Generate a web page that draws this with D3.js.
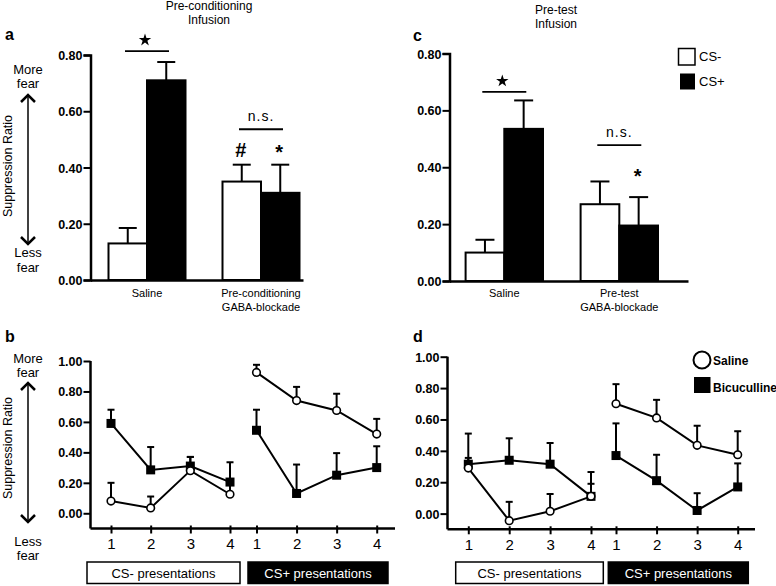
<!DOCTYPE html>
<html>
<head>
<meta charset="utf-8">
<script src="https://cdn.jsdelivr.net/npm/d3@7"></script>
<style>
  body { margin: 0; background: #fff; }
  text { font-family: "Liberation Sans", Arial, Helvetica, sans-serif; fill: #000; }
</style>
</head>
<body>
<div id="chart"></div>
<script>
// ---- data ----
var seriesBar = ["CS-", "CS+"];

// panel a: pre-conditioning infusion
var groupsA = ["Saline", "Pre-conditioning GABA-blockade"];
var labelsA = [["Saline"], ["Pre-conditioning", "GABA-blockade"]];
var csMinusA = [0.13, 0.35];
var csMinusSemA = [0.055, 0.06];
var csPlusA = [0.71, 0.31];
var csPlusSemA = [0.065, 0.10];

// panel c: pre-test infusion
var groupsC = ["Saline", "Pre-test GABA-blockade"];
var labelsC = [["Saline"], ["Pre-test", "GABA-blockade"]];
var csMinusC = [0.10, 0.27];
var csMinusSemC = [0.045, 0.08];
var csPlusC = [0.535, 0.195];
var csPlusSemC = [0.10, 0.10];

var barTicks = [0, 0.2, 0.4, 0.6, 0.8];
var lineTicks = [0, 0.2, 0.4, 0.6, 0.8, 1.0];
var trials = [1, 2, 3, 4];

// panel b: 4 CS- presentations then 4 CS+ presentations
var salineB = [0.08, 0.035, 0.28, 0.125, 0.925, 0.74, 0.675, 0.52];
var salineSemB = [0.12, 0.075, 0.09, 0.08, 0.05, 0.09, 0.11, 0.10];
var bicB = [0.59, 0.285, 0.31, 0.205, 0.545, 0.13, 0.25, 0.30];
var bicSemB = [0.09, 0.15, 0.06, 0.13, 0.135, 0.19, 0.145, 0.14];

// panel d
var salineD = [0.29, -0.045, 0.015, 0.11, 0.70, 0.61, 0.435, 0.375];
var salineSemD = [0.22, 0.12, 0.11, 0.08, 0.125, 0.115, 0.125, 0.15];
var bicD = [0.315, 0.34, 0.315, 0.11, 0.37, 0.21, 0.02, 0.17];
var bicSemD = [0.04, 0.14, 0.135, 0.155, 0.205, 0.165, 0.11, 0.15];

// significance marks (in data units)
var sigA = [
  {kind: "star", group: 0, v: 0.853},
  {kind: "line", group: 0, v: 0.814},
  {kind: "text", text: "n.s.", group: 1, v: 0.566},
  {kind: "line", group: 1, v: 0.536},
  {kind: "big", text: "#", group: 1, series: "CS-", v: 0.438},
  {kind: "big", text: "*", group: 1, series: "CS+", v: 0.432}
];
var sigC = [
  {kind: "star", group: 0, v: 0.703},
  {kind: "line", group: 0, v: 0.665},
  {kind: "text", text: "n.s.", group: 1, v: 0.506},
  {kind: "line", group: 1, v: 0.478},
  {kind: "big", text: "*", group: 1, series: "CS+", v: 0.346}
];

var svg = d3.select("#chart").append("svg")
    .attr("width", 776)
    .attr("height", 586);

function barPanel(p) {
  var g = svg.append("g");
  var y = d3.scaleLinear().domain([0, 0.8]).range([p.yZero, p.yTop]);
  var x = d3.scalePoint().domain(p.groups).range(p.centers);
  var sub = d3.scaleBand().domain(seriesBar).range([-p.bw, p.bw]);

  var rows = [];
  p.groups.forEach(function (name, i) {
    rows.push({g: name, s: "CS-", v: p.minus[i], e: p.minusSem[i]});
    rows.push({g: name, s: "CS+", v: p.plus[i], e: p.plusSem[i]});
  });

  // error bars
  rows.forEach(function (d) {
    var cx = x(d.g) + sub(d.s) + sub.bandwidth() / 2;
    g.append("line").attr("x1", cx).attr("x2", cx)
      .attr("y1", y(d.v)).attr("y2", y(d.v + d.e))
      .attr("stroke", "#000").attr("stroke-width", 2);
    g.append("line").attr("x1", cx - p.cap).attr("x2", cx + p.cap)
      .attr("y1", y(d.v + d.e)).attr("y2", y(d.v + d.e))
      .attr("stroke", "#000").attr("stroke-width", 2);
  });

  g.selectAll("rect.bar").data(rows).enter().append("rect")
    .attr("class", "bar")
    .attr("x", function (d) { return x(d.g) + sub(d.s); })
    .attr("width", sub.bandwidth())
    .attr("y", function (d) { return y(d.v); })
    .attr("height", function (d) { return y(0) - y(d.v); })
    .attr("fill", function (d) { return d.s === "CS-" ? "#fff" : "#000"; })
    .attr("stroke", "#000")
    .attr("stroke-width", 2);

  // y axis
  var ax = g.append("g")
    .attr("transform", "translate(" + p.xAxis + ",0)")
    .call(d3.axisLeft(y).tickValues(barTicks).tickFormat(d3.format(".2f"))
      .tickSizeOuter(0).tickSize(7).tickPadding(1));
  ax.select(".domain").attr("stroke-width", 2.5);
  ax.selectAll(".tick line").attr("stroke-width", 2);
  ax.selectAll(".tick text").style("font-size", "12.5px").style("font-weight", "bold")
    .attr("fill", "#000").attr("dy", "0.36em");

  // x axis baseline
  var xb = d3.scaleLinear().domain([0, 1]).range([p.xAxis, p.xEnd]);
  var bx = g.append("g")
    .attr("transform", "translate(0," + y(0) + ")")
    .call(d3.axisBottom(xb).tickValues([]).tickSizeOuter(0));
  bx.select(".domain").attr("stroke-width", 2.5);

  // category labels
  p.groups.forEach(function (name, i) {
    p.labels[i].forEach(function (line, j) {
      g.append("text").attr("x", x(name)).attr("y", p.labelY + j * 13.5)
        .attr("text-anchor", "middle").style("font-size", "11px").text(line);
    });
  });

  // significance marks
  p.sig.forEach(function (s) {
    var cx = x(p.groups[s.group]);
    if (s.series) cx += sub(s.series) + sub.bandwidth() / 2;
    if (s.kind === "line") {
      g.append("line").attr("x1", cx - 22).attr("x2", cx + 22)
        .attr("y1", y(s.v)).attr("y2", y(s.v))
        .attr("stroke", "#000").attr("stroke-width", 1.8);
    } else if (s.kind === "star") {
      g.append("path").attr("d", d3.symbol(d3.symbolStar, 48)())
        .attr("transform", "translate(" + (cx - 2) + "," + y(s.v) + ")")
        .attr("fill", "#000");
    } else if (s.kind === "text") {
      g.append("text").attr("x", cx).attr("y", y(s.v))
        .attr("text-anchor", "middle").style("font-size", "14px")
        .style("letter-spacing", "1px").text(s.text);
    } else {
      g.append("text").attr("x", cx - 1).attr("y", y(s.v))
        .attr("text-anchor", "middle").style("font-size", "20px")
        .style("font-weight", "bold").text(s.text);
    }
  });

  // titles
  p.title.forEach(function (t, j) {
    g.append("text").attr("x", p.titleX).attr("y", p.titleY + j * 14)
      .attr("text-anchor", "middle").style("font-size", "12px").text(t);
  });
}

function linePanel(p) {
  var g = svg.append("g");
  var y = d3.scaleLinear().domain([-0.1, 1.0]).range([p.yBase, p.yTop]);
  var xm = d3.scaleLinear().domain([1, 4]).range(p.xMinus);
  var xp = d3.scaleLinear().domain([1, 4]).range(p.xPlus);

  // y axis
  var ax = g.append("g")
    .attr("transform", "translate(" + p.xAxis + ",0)")
    .call(d3.axisLeft(y).tickValues(lineTicks).tickFormat(d3.format(".2f"))
      .tickSizeOuter(0).tickSize(7).tickPadding(1));
  ax.select(".domain").attr("d", "M0," + y(-0.1) + "V" + y(1.0)).attr("stroke-width", 2.5);
  ax.selectAll(".tick line").attr("stroke-width", 2);
  ax.selectAll(".tick text").style("font-size", "12.5px").style("font-weight", "bold")
    .attr("fill", "#000").attr("dy", "0.36em");

  // x axis
  g.append("line").attr("x1", p.xAxis).attr("x2", p.xEnd)
    .attr("y1", y(-0.1)).attr("y2", y(-0.1))
    .attr("stroke", "#000").attr("stroke-width", 2.5);
  [xm, xp].forEach(function (sc) {
    var a = g.append("g")
      .attr("transform", "translate(0," + (y(-0.1) - 3) + ")")
      .call(d3.axisBottom(sc).tickValues(trials).tickFormat(d3.format("d"))
        .tickSize(8).tickPadding(5));
    a.select(".domain").remove();
    a.selectAll(".tick line").attr("stroke-width", 2);
    a.selectAll(".tick text").style("font-size", "15px").attr("fill", "#000");
  });

  function pts(vals, sem) {
    return vals.map(function (v, i) {
      return {x: i < 4 ? xm(trials[i]) : xp(trials[i - 4]), v: v, e: sem[i], part: i < 4 ? 0 : 1};
    });
  }
  var sal = pts(p.saline, p.salineSem);
  var bic = pts(p.bic, p.bicSem);
  var line = d3.line().x(function (d) { return d.x; }).y(function (d) { return y(d.v); });

  [sal, bic].forEach(function (s) {
    s.forEach(function (d) {
      g.append("line").attr("x1", d.x).attr("x2", d.x)
        .attr("y1", y(d.v)).attr("y2", y(d.v + d.e))
        .attr("stroke", "#000").attr("stroke-width", 2);
      g.append("line").attr("x1", d.x - 3.5).attr("x2", d.x + 3.5)
        .attr("y1", y(d.v + d.e)).attr("y2", y(d.v + d.e))
        .attr("stroke", "#000").attr("stroke-width", 2);
    });
  });
  [sal, bic].forEach(function (s) {
    [0, 1].forEach(function (part) {
      g.append("path")
        .datum(s.filter(function (d) { return d.part === part; }))
        .attr("d", line)
        .attr("fill", "none").attr("stroke", "#000").attr("stroke-width", 2);
    });
  });
  g.selectAll("rect.bic").data(bic).enter().append("rect")
    .attr("class", "bic")
    .attr("x", function (d) { return d.x - 4.5; })
    .attr("y", function (d) { return y(d.v) - 4.5; })
    .attr("width", 9).attr("height", 9).attr("fill", "#000");
  g.selectAll("circle.sal").data(sal).enter().append("circle")
    .attr("class", "sal")
    .attr("cx", function (d) { return d.x; })
    .attr("cy", function (d) { return y(d.v); })
    .attr("r", 3.8).attr("fill", "#fff").attr("stroke", "#000").attr("stroke-width", 1.6);

  // presentation boxes
  var boxes = [
    {x0: p.boxMinus[0], x1: p.boxMinus[1], fill: "#fff", color: "#000", text: "CS- presentations"},
    {x0: p.boxPlus[0], x1: p.boxPlus[1], fill: "#000", color: "#fff", text: "CS+ presentations"}
  ];
  boxes.forEach(function (b) {
    g.append("rect").attr("x", b.x0).attr("y", 562).attr("width", b.x1 - b.x0).attr("height", 21.5)
      .attr("fill", b.fill).attr("stroke", "#000").attr("stroke-width", 1.5);
    g.append("text").attr("x", (b.x0 + b.x1) / 2).attr("y", 577.5)
      .attr("text-anchor", "middle").style("font-size", "13px")
      .style("fill", b.color).text(b.text);
  });
}

function fearArrow(p) {
  var g = svg.append("g");
  [["More", p.more], ["fear", p.more + 14], ["Less", p.less], ["fear", p.less + 14.5]].forEach(function (t) {
    g.append("text").attr("x", 28).attr("y", t[1]).attr("text-anchor", "middle")
      .style("font-size", "13px").text(t[0]);
  });
  g.append("line").attr("x1", 28).attr("x2", 28).attr("y1", p.top).attr("y2", p.bottom)
    .attr("stroke", "#000").attr("stroke-width", 1.5);
  g.append("path").attr("d", "M21," + (p.top + 7) + "L28," + p.top + "L35," + (p.top + 7))
    .attr("fill", "none").attr("stroke", "#000").attr("stroke-width", 2.5);
  g.append("path").attr("d", "M21," + (p.bottom - 7) + "L28," + p.bottom + "L35," + (p.bottom - 7))
    .attr("fill", "none").attr("stroke", "#000").attr("stroke-width", 2.5);
  g.append("text").attr("transform", "translate(12," + p.mid + ") rotate(-90)")
    .attr("text-anchor", "middle").style("font-size", "12.5px").text("Suppression Ratio");
}

barPanel({
  groups: groupsA, labels: labelsA, minus: csMinusA, minusSem: csMinusSemA,
  plus: csPlusA, plusSem: csPlusSemA, sig: sigA,
  yZero: 280, yTop: 55, xAxis: 90.5, xEnd: 303, centers: [147, 261], bw: 38.5, cap: 9,
  labelY: 297, title: ["Pre-conditioning", "Infusion"], titleX: 209, titleY: 10
});
barPanel({
  groups: groupsC, labels: labelsC, minus: csMinusC, minusSem: csMinusSemC,
  plus: csPlusC, plusSem: csPlusSemC, sig: sigC,
  yZero: 281, yTop: 53.5, xAxis: 449.5, xEnd: 688, centers: [504.3, 619.3], bw: 38.7, cap: 9.5,
  labelY: 297, title: ["Pre-test", "Infusion"], titleX: 556, titleY: 14
});
linePanel({
  saline: salineB, salineSem: salineSemB, bic: bicB, bicSem: bicSemB,
  yBase: 528.5, yTop: 361, xAxis: 90.5, xEnd: 395,
  xMinus: [111, 230], xPlus: [256.5, 376.7],
  boxMinus: [87, 240], boxPlus: [248, 388]
});
linePanel({
  saline: salineD, salineSem: salineSemD, bic: bicD, bicSem: bicSemD,
  yBase: 529.3, yTop: 356.7, xAxis: 447.5, xEnd: 755,
  xMinus: [468.3, 591], xPlus: [616, 737.7],
  boxMinus: [455.7, 603.3], boxPlus: [608.3, 748.3]
});

fearArrow({more: 73.5, less: 257, top: 95, bottom: 244, mid: 166});
fearArrow({more: 362.5, less: 545.5, top: 383, bottom: 522, mid: 448});

// panel letters
[["a", 5, 40], ["c", 413, 40.5], ["b", 5, 342], ["d", 413, 342]].forEach(function (t) {
  svg.append("text").attr("x", t[1]).attr("y", t[2])
    .style("font-size", "16px").style("font-weight", "bold").text(t[0]);
});

// legend c
svg.append("rect").attr("x", 678.5).attr("y", 48.5).attr("width", 16.5).attr("height", 16.5)
  .attr("fill", "#fff").attr("stroke", "#000").attr("stroke-width", 1.5);
svg.append("text").attr("x", 699).attr("y", 61).style("font-size", "13px").text("CS-");
svg.append("rect").attr("x", 680).attr("y", 73.5).attr("width", 15).attr("height", 16)
  .attr("fill", "#000");
svg.append("text").attr("x", 699).attr("y", 86).style("font-size", "13px").text("CS+");

// legend d
svg.append("circle").attr("cx", 702).attr("cy", 360).attr("r", 8.5)
  .attr("fill", "#fff").attr("stroke", "#000").attr("stroke-width", 2);
svg.append("text").attr("x", 713).attr("y", 365).style("font-size", "12px")
  .style("font-weight", "bold").text("Saline");
svg.append("rect").attr("x", 694).attr("y", 377).attr("width", 16.5).attr("height", 16)
  .attr("fill", "#000");
svg.append("text").attr("x", 713).attr("y", 391.5).style("font-size", "12px")
  .style("font-weight", "bold").text("Bicuculline");
</script>
</body>
</html>
